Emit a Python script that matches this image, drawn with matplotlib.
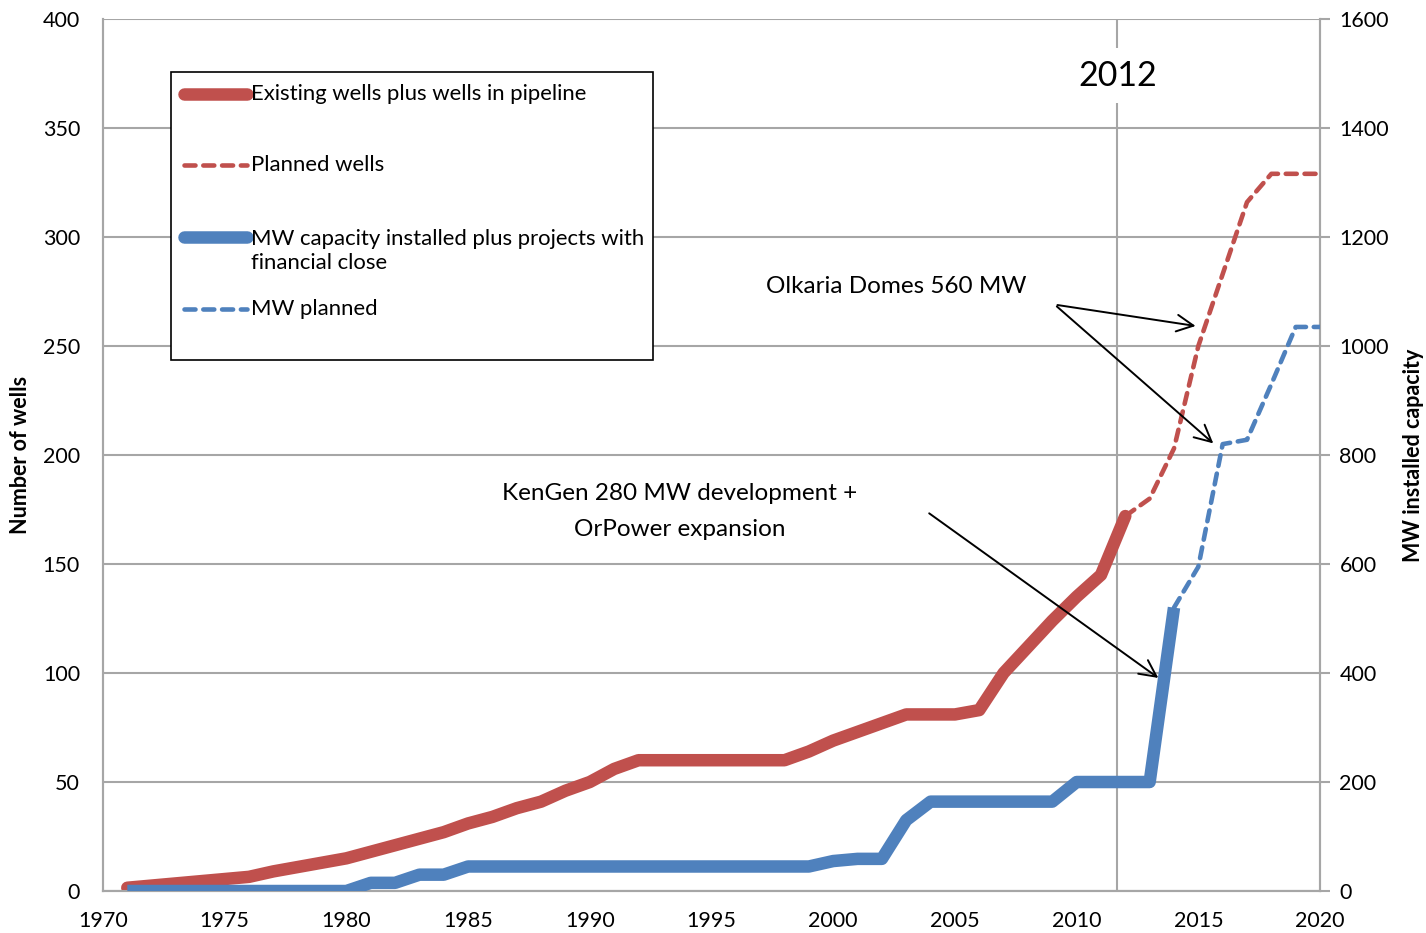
import numpy as np
import matplotlib
matplotlib.use('Agg')
import matplotlib.pyplot as plt
from matplotlib.lines import Line2D
from matplotlib.patches import Rectangle

plt.rcParams['font.family'] = ['Lato', 'DejaVu Sans']

# existing wells plus wells in pipeline (left axis)
wells_years = list(range(1971, 2013))
wells = [1.5, 2.5, 3.5, 4.5, 5.5, 6.5, 9, 11, 13, 15,
         18, 21, 24, 27, 31, 34, 38, 41, 46, 50,
         56, 60, 60, 60, 60, 60, 60, 60, 64, 69,
         73, 77, 81, 81, 81, 83, 100, 112, 124, 135,
         145, 172]

# planned wells (left axis)
planned_years = list(range(2012, 2021))
planned_wells = [172, 180, 203, 250, 283, 316, 329, 329, 329]

# MW installed plus financial close (right axis)
mw_years = list(range(1971, 2015))
mw = [0, 0, 0, 0, 0, 0, 0, 0, 0, 0,
      15, 15, 30, 30, 45, 45, 45, 45, 45, 45,
      45, 45, 45, 45, 45, 45, 45, 45, 45, 55,
      59, 59, 130, 164, 164, 164, 164, 164, 164, 200,
      200, 200, 200, 520]

# MW planned (right axis)
mw_plan_years = list(range(2014, 2021))
mw_planned = [520, 595, 820, 828, 930, 1035, 1035]

red = '#C0504D'
blue = '#4F81BD'
grid_c = '#A6A6A6'
dash = (2.4, 1.7)

fig = plt.figure(figsize=(14.26, 9.33), dpi=100)
ax = fig.add_axes([0.0722, 0.045, 0.8535, 0.9346])
ax2 = ax.twinx()

ax.set_xlim(1970, 2020)
ax.set_ylim(0, 400)
ax2.set_ylim(0, 1600)
ax.set_xticks(range(1970, 2021, 5))
ax.set_yticks(range(0, 401, 50))
ax2.set_yticks(range(0, 1601, 200))

ax.grid(axis='y', color=grid_c, lw=1.5)
ax.set_axisbelow(True)
for a in (ax, ax2):
    for s in a.spines.values():
        s.set_color(grid_c)
        s.set_linewidth(1.5)
    a.spines['top'].set_visible(False)
ax.tick_params(axis='y', length=0, labelsize=15.5, pad=16.5)
ax.tick_params(axis='x', length=0, labelsize=15.5, pad=14.5)
ax2.tick_params(axis='y', length=7, width=1.5, color=grid_c, labelsize=15.5, pad=7)

# 2012 marker
ax.axvline(2011.67, color=grid_c, lw=1.5, zorder=1)
ax.text(2011.67, 374, '2012', ha='center', va='center', fontsize=24.5,
        bbox=dict(facecolor='white', edgecolor='none', pad=8), zorder=2)

ax.plot(wells_years, wells, color=red, lw=9, solid_capstyle='round',
        solid_joinstyle='round', zorder=3)
ax.plot(planned_years, planned_wells, color=red, lw=3.3, dashes=dash,
        dash_capstyle='round', zorder=3)
ax2.plot(mw_years, mw, color=blue, lw=9, solid_capstyle='butt',
         solid_joinstyle='round', zorder=3)
ax2.plot(mw_plan_years, mw_planned, color=blue, lw=3.3, dashes=dash,
         dash_capstyle='round', zorder=3)

ax.set_ylabel('Number of wells', fontsize=15.5, fontweight='bold')
ax2.set_ylabel('MW installed capacity', fontsize=15.5, fontweight='bold')
ax.yaxis.set_label_coords(-0.059, 0.5)
ax2.yaxis.set_label_coords(1.068, 0.5)

# annotations
arrow = dict(arrowstyle='->', color='black', lw=1.4, mutation_scale=30)
ax.text(2002.6, 277.5, 'Olkaria Domes 560 MW', ha='center', va='center', fontsize=17.5)
ax.annotate('', xy=(2015.0, 259), xytext=(2009.1, 269), arrowprops=arrow)
ax.annotate('', xy=(2015.7, 204.5), xytext=(2009.1, 269), arrowprops=arrow)
ax.text(1993.7, 174, 'KenGen 280 MW development +\nOrPower expansion', ha='center',
        va='center', fontsize=17.5, linespacing=1.85)
ax.annotate('', xy=(2013.45, 97), xytext=(2003.85, 174), arrowprops=arrow)

# legend box drawn by hand to keep Excel-like layout
T = ax.transAxes
ax.add_patch(Rectangle((0.0559, 0.609), 0.3961, 0.330, transform=T, fill=True,
                       facecolor='white', edgecolor='black', lw=1.2, zorder=5))
entries = [
    (0.914, 0.914, red, 9, None, 'Existing wells plus wells in pipeline'),
    (0.8326, 0.8326, red, 3.3, dash, 'Planned wells'),
    (0.750, 0.734, blue, 9, None, 'MW capacity installed plus projects with\nfinancial close'),
    (0.6674, 0.6674, blue, 3.3, dash, 'MW planned'),
]
for yy, ty, c, lw, ds, lab in entries:
    ln = Line2D([0.0665, 0.1185], [yy, yy], transform=T, color=c, lw=lw,
                solid_capstyle='round', dash_capstyle='round', zorder=6)
    if ds:
        ln.set_dashes(ds)
    ax.add_line(ln)
    ax.text(0.1216, ty, lab, transform=T, ha='left', va='center',
            fontsize=15.9, linespacing=1.3, zorder=6)

fig.savefig('out.png', dpi=100)
